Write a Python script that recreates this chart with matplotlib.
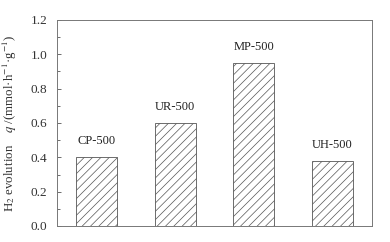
import matplotlib
matplotlib.use("Agg")
import matplotlib.pyplot as plt
from matplotlib.ticker import MultipleLocator

categories = ["CP-500", "UR-500", "MP-500", "UH-500"]
values = [0.40, 0.60, 0.95, 0.38]
yticks = [0.0, 0.2, 0.4, 0.6, 0.8, 1.0, 1.2]

plt.rcParams['font.family'] = ['Liberation Serif', 'DejaVu Serif']
plt.rcParams['mathtext.fontset'] = 'stix'
plt.rcParams['hatch.linewidth'] = 0.5
plt.rcParams['hatch.color'] = '#555555'

fig = plt.figure(figsize=(3.9, 2.42), dpi=100)
ax = fig.add_axes([57/390, 1 - 226/242, 315/390, 206/242])

x = list(range(1, len(categories) + 1))
bars = ax.bar(x, values, width=0.52, color='white', edgecolor='#555555',
              linewidth=0.6, hatch='////')
for xi, v, c in zip(x, values, categories):
    ax.text(xi, v + 0.075, c, ha='center', va='baseline', fontsize=9, color='#222222')

ax.set_xlim(0.5, 4.5)
ax.set_ylim(0, 1.2)
ax.set_yticks(yticks)
ax.set_yticklabels([f"{t:.1f}" for t in yticks], fontsize=9.5, color='#333333')
ax.yaxis.set_minor_locator(MultipleLocator(0.1))
ax.set_xticks([])
ax.tick_params(axis='y', which='major', direction='in', length=3, width=0.6, color='#555555', pad=7)
ax.tick_params(axis='y', which='minor', direction='in', length=2, width=0.6, color='#555555')
for s in ax.spines.values():
    s.set_color('#777777')
    s.set_linewidth(0.7)

ax.set_ylabel(r"H$_2$ evolution    $q$ /(mmol·h$^{-1}$·g$^{-1}$)", fontsize=9.3, color='#333333', labelpad=8)

fig.savefig("out.png", dpi=100)
